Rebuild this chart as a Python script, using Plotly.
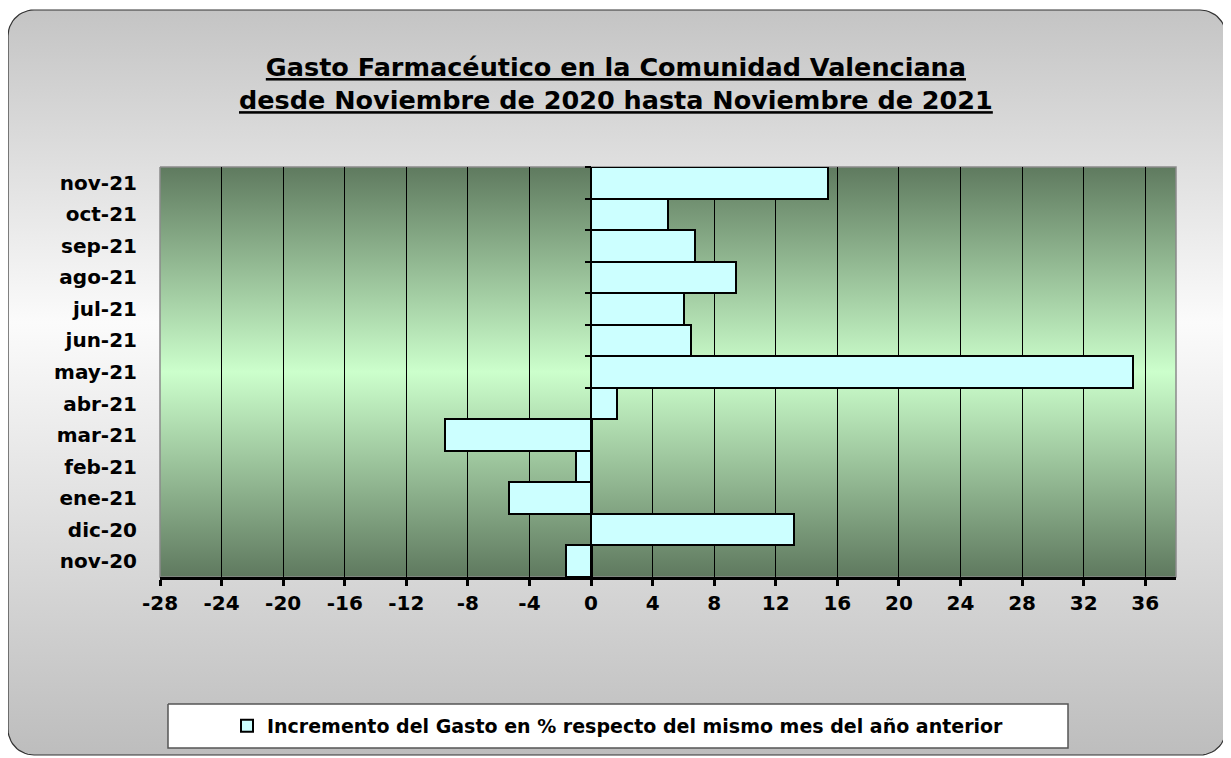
import numpy as np
import plotly.graph_objects as go

# ---------------- data ----------------
months = ["nov-20", "dic-20", "ene-21", "feb-21", "mar-21", "abr-21", "may-21",
          "jun-21", "jul-21", "ago-21", "sep-21", "oct-21", "nov-21"]
increase = [-1.6, 13.2, -5.3, -0.95, -9.5, 1.7, 35.2, 6.5, 6.05, 9.4, 6.75, 5.0, 15.4]
x_ticks = list(range(-28, 37, 4))
x_tick_labels = [str(v) for v in x_ticks]
x_range = [-28, 38]
title_lines = ["Gasto Farmacéutico en la Comunidad Valenciana",
               "desde Noviembre de 2020 hasta Noviembre de 2021"]
series_name = "Incremento del Gasto en % respecto del mismo mes del año anterior"

# ---------------- layout geometry (screen pixels) ----------------
W, H = 1231, 758
OFF = 8  # page body margin: the figure is drawn 8px right/down in the window
PL, PR, PT, PB = 160, 1176, 167, 577
FONT = "DejaVu Sans"


def fx(px):  # screen x -> paper fraction
    return (px - OFF) / W


def fy(py):  # screen y -> paper fraction
    return 1 - (py - OFF) / H


def rounded_rect(x0, y0, x1, y1, r, n=14):
    pts = []
    corners = [(x1 - r, y0 + r, -90, 0), (x1 - r, y1 - r, 0, 90),
               (x0 + r, y1 - r, 90, 180), (x0 + r, y0 + r, 180, 270)]
    for cx, cy, a0, a1 in corners:
        for a in np.linspace(np.radians(a0), np.radians(a1), n):
            pts.append((cx + r * np.cos(a), cy + r * np.sin(a)))
    pts.append(pts[0])
    xs, ys = zip(*pts)
    return list(xs), list(ys)


def rect(x0, y0, x1, y1):
    return [x0, x1, x1, x0, x0], [y0, y0, y1, y1, y0]


fig = go.Figure()

# background card with vertical gradient
bx, by = rounded_rect(8, 10, 1226, 755, 26)
fig.add_trace(go.Scatter(
    x=bx, y=by, mode="lines", fill="toself",
    fillgradient=dict(type="vertical", start=10, stop=755,
                      colorscale=[[0, "#c4c4c4"], [0.42, "#fbfbfb"], [1, "#bdbdbd"]]),
    line=dict(color="#333333", width=1.2),
    xaxis="x", yaxis="y", showlegend=False, hoverinfo="skip"))

# plot area with green gradient
px_, py_ = rect(PL, PT, PR, PB)
fig.add_trace(go.Scatter(
    x=px_, y=py_, mode="lines", fill="toself",
    fillgradient=dict(type="vertical", start=PT, stop=PB,
                      colorscale=[[0, "#5f7a5f"], [0.5, "#ccffcc"], [1, "#5f795f"]]),
    line=dict(color="#8a8a8a", width=1.5),
    xaxis="x", yaxis="y", showlegend=False, hoverinfo="skip"))

# legend box
lx, ly = rect(168, 704, 1068, 748)
fig.add_trace(go.Scatter(
    x=lx, y=ly, mode="lines", fill="toself", fillcolor="white",
    line=dict(color="#555555", width=1.5),
    xaxis="x", yaxis="y", showlegend=False, hoverinfo="skip"))

# bars
fig.add_trace(go.Bar(
    y=months, x=increase, orientation="h", name=series_name,
    marker=dict(color="#ccffff", line=dict(color="black", width=2)),
    xaxis="x2", yaxis="y2", hoverinfo="x+y"))

# helper trace for the tick axis at x = 0
fig.add_trace(go.Scatter(x=[None], y=[None], xaxis="x2", yaxis="y3",
                         showlegend=False, hoverinfo="skip"))

dom_x = [fx(PL), fx(PR)]
dom_y = [fy(PB), fy(PT)]
zero_pos = dom_x[0] + (0 - x_range[0]) / (x_range[1] - x_range[0]) * (dom_x[1] - dom_x[0])
boundaries = [i - 0.5 for i in range(len(months) + 1)]

fig.update_layout(
    width=W, height=H,
    margin=dict(l=0, r=0, t=0, b=0, autoexpand=False),
    paper_bgcolor="white", plot_bgcolor="rgba(0,0,0,0)",
    bargap=0,
    font=dict(family=FONT, color="black"),
    xaxis=dict(domain=[0, 1], range=[OFF, W + OFF], visible=False, fixedrange=True, automargin=False),
    yaxis=dict(domain=[0, 1], range=[H + OFF, OFF], visible=False, fixedrange=True, automargin=False),
    xaxis2=dict(domain=dom_x, anchor="y2", range=x_range,
                tickmode="array", tickvals=x_ticks, ticktext=x_tick_labels,
                automargin=False,
                showgrid=True, gridcolor="black", gridwidth=1,
                zeroline=True, zerolinecolor="black", zerolinewidth=3,
                showline=True, linecolor="black", linewidth=3,
                ticks="outside", ticklen=6, tickwidth=3, tickcolor="black",
                tickfont=dict(family=FONT, size=20, weight="bold", color="black")),
    yaxis2=dict(domain=dom_y, anchor="x2", type="category", categoryorder="array",
                categoryarray=months, range=[-0.5, len(months) - 0.5],
                automargin=False,
                showgrid=False, zeroline=False, showline=False, ticks="",
                ticklabelstandoff=22,
                tickfont=dict(family=FONT, size=20, weight="bold", color="black")),
    yaxis3=dict(overlaying="y2", anchor="free", position=zero_pos, side="left",
                range=[-0.5, len(months) - 0.5], tickvals=boundaries,
                automargin=False,
                ticks="outside", ticklen=6, tickwidth=2, tickcolor="black",
                showticklabels=False, showgrid=False, zeroline=False, showline=False),
    showlegend=True,
    legend=dict(x=fx(618), xanchor="center", y=fy(726), yanchor="middle",
                bgcolor="rgba(0,0,0,0)", borderwidth=0,
                font=dict(family=FONT, size=19, weight="bold", color="black")),
    annotations=[dict(
        text="<u>" + title_lines[0] + "</u><br><u>" + title_lines[1] + "</u>",
        x=fx(616), y=fy(84), xref="paper", yref="paper",
        xanchor="center", yanchor="middle", showarrow=False,
        font=dict(family=FONT, size=25.5, weight="bold", color="black"))],
)

fig.write_html("out.html")
